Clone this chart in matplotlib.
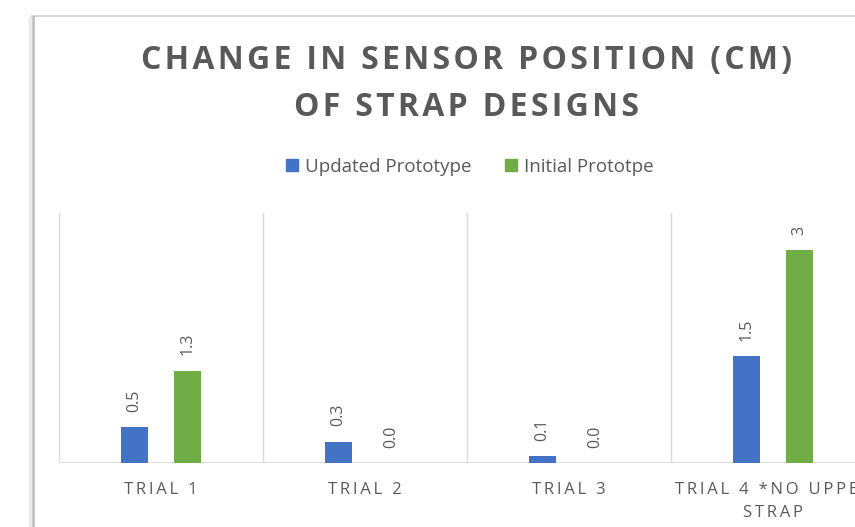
import matplotlib
matplotlib.use("Agg")
import matplotlib.pyplot as plt
import numpy as np
from matplotlib.patches import Rectangle
from matplotlib.lines import Line2D

plt.rcParams['font.family'] = ['Open Sans', 'DejaVu Sans']

# data
categories = ["TRIAL 1", "TRIAL 2", "TRIAL 3", "TRIAL 4 *NO UPPER\nSTRAP"]
updated = [0.5, 0.3, 0.1, 1.5]
initial = [1.3, 0.0, 0.0, 3.0]
updated_labels = ["0.5", "0.3", "0.1", "1.5"]
initial_labels = ["1.3", "0.0", "0.0", "3"]
series_names = ["Updated Prototype", "Initial Prototpe"]
title_lines = ["CHANGE IN SENSOR POSITION (CM)", "OF STRAP DESIGNS"]

blue = '#4472c4'
green = '#70ad47'
txt = '#595959'
grid = '#d9d9d9'


def spaced(s, sep='\u2009'):
    # fake letter spacing like excel's axis text
    return '\n'.join(sep.join(line) for line in s.split('\n'))


W, H = 855, 527
fig = plt.figure(figsize=(W / 100, H / 100), dpi=100)

# chart frame (screenshot is cropped on right/bottom)
fig.patches.append(Rectangle((32 / W, -0.1), 2, (H - 16) / H + 0.1, transform=fig.transFigure,
                             facecolor='white', edgecolor='#d0d0d0', linewidth=1.2, zorder=-5))
fig.add_artist(Line2D([32.5 / W, 32.5 / W], [0, (H - 17) / H], transform=fig.transFigure,
                      color='#c0c0c0', linewidth=2.0, zorder=-4))
fig.add_artist(Line2D([30 / W, 30 / W], [0, (H - 18) / H], transform=fig.transFigure,
                      color='#ececec', linewidth=2.5, zorder=-4))

ax = fig.add_axes([59 / W, (H - 463) / H, 816 / W, 250 / H])
ax.set_facecolor('none')
ax.set_xlim(0, 4)
ax.set_ylim(0, 3.52)

x = np.arange(len(categories)) + 0.5
bw = 0.137
off = 0.13
ax.bar(x - off, updated, bw, color=blue, zorder=3)
ax.bar(x + off, initial, bw, color=green, zorder=3)

for xi, v, lab in zip(x - off, updated, updated_labels):
    ax.annotate(lab, (xi, v), xytext=(0, 11), textcoords='offset points', rotation=90,
                ha='center', va='bottom', color=txt, fontsize=11.5)
for xi, v, lab in zip(x + off, initial, initial_labels):
    ax.annotate(lab, (xi, v), xytext=(0, 11), textcoords='offset points', rotation=90,
                ha='center', va='bottom', color=txt, fontsize=11.5)

# category separators + baseline
for b in range(len(categories) + 1):
    ax.axvline(b, color=grid, linewidth=1, zorder=1)
ax.axhline(0, color=grid, linewidth=1.2, zorder=2)

for s in ax.spines.values():
    s.set_visible(False)
ax.set_yticks([])
ax.set_xticks(x)
ax.set_xticklabels([spaced(c) for c in categories], color=txt, fontsize=12, linespacing=1.55)
ax.tick_params(axis='x', length=0, pad=14)

for i, line in enumerate(title_lines):
    fig.text(466 / W, 1 - (60 + 47 * i) / H, spaced(line, '\u200a'),
             ha='center', va='center', fontsize=23, fontweight='bold', color=txt)

handles = [Rectangle((0, 0), 1, 1, color=blue), Rectangle((0, 0), 1, 1, color=green)]
fig.legend(handles, series_names, loc='center', bbox_to_anchor=(470 / W, 1 - 167 / H), ncol=2,
           frameon=False, fontsize=13.5, labelcolor=txt, handlelength=0.6, handleheight=0.6,
           handletextpad=0.4, columnspacing=1.8)

fig.savefig('out.png', dpi=100)
